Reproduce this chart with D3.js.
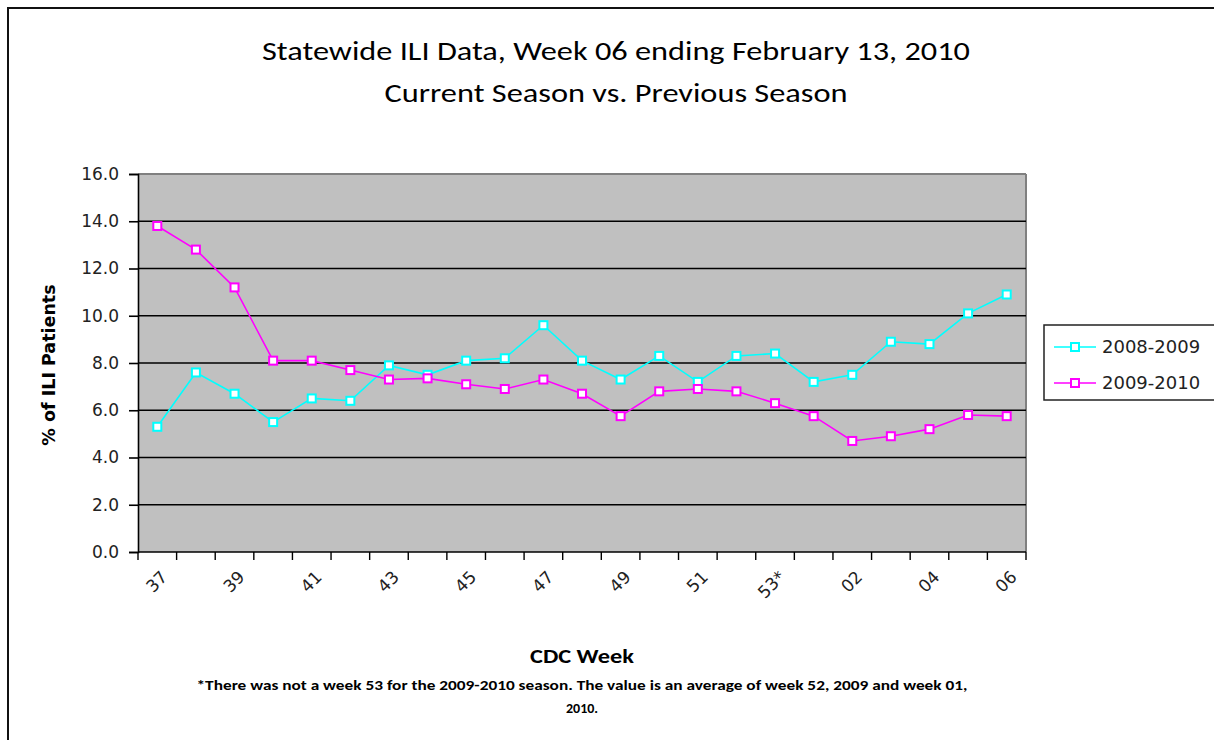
<!DOCTYPE html>
<html>
<head>
<meta charset="utf-8">
<script src="https://cdn.jsdelivr.net/npm/d3@7"></script>
<style>
  html, body { margin: 0; padding: 0; background: #fff; }
  svg { display: block; }
</style>
</head>
<body>
<svg id="chart" width="1214" height="740"></svg>
<script>
// ---- data ----
const weeks = ["37","38","39","40","41","42","43","44","45","46","47","48","49","50","51","52","53*","01","02","03","04","05","06"];
const tickLabels = ["37","39","41","43","45","47","49","51","53*","02","04","06"];
const season0809 = [5.3,7.6,6.7,5.5,6.5,6.4,7.9,7.5,8.1,8.2,9.6,8.1,7.3,8.3,7.2,8.3,8.4,7.2,7.5,8.9,8.8,10.1,10.9];
const season0910 = [13.8,12.8,11.2,8.1,8.1,7.7,7.3,7.35,7.1,6.9,7.3,6.7,5.75,6.8,6.9,6.8,6.3,5.75,4.7,4.9,5.2,5.8,5.75];
const yTicks = [0,2,4,6,8,10,12,14,16];
const seriesNames = ["2008-2009","2009-2010"];
const seriesColors = ["#00FFFF","#FF00FF"];
const titleLines = ["Statewide ILI Data, Week 06 ending February 13, 2010","Current Season vs. Previous Season"];
const footLines = ["*There was not a week 53 for the 2009-2010 season. The value is an average of week 52, 2009 and week 01,","2010."];

(function () {
const svg = d3.select("#chart");
const pL = 138, pR = 1026, pT = 174, pB = 552;

// outer border
svg.append("rect").attr("x", 8).attr("y", 8).attr("width", 1240).attr("height", 760)
  .attr("fill", "none").attr("stroke", "#111").attr("stroke-width", 2);

const x = d3.scaleBand().domain(weeks).range([pL, pR]).padding(0);
const y = d3.scaleLinear().domain([0, 16]).range([pB, pT]);

// plot area
svg.append("rect").attr("x", pL).attr("y", pT).attr("width", pR - pL).attr("height", pB - pT)
  .attr("fill", "#C0C0C0");
svg.append("line").attr("x1", pR).attr("x2", pR).attr("y1", pT).attr("y2", pB)
  .attr("stroke", "#808080").attr("stroke-width", 2);
svg.append("line").attr("x1", pL).attr("x2", pR).attr("y1", y(16)).attr("y2", y(16))
  .attr("stroke", "#808080").attr("stroke-width", 2);

// gridlines
svg.append("g").selectAll("line").data(yTicks.filter(d => d > 0 && d < 16)).join("line")
  .attr("x1", pL).attr("x2", pR).attr("y1", d => y(d)).attr("y2", d => y(d))
  .attr("stroke", "#000").attr("stroke-width", 1.6);

// y axis
const yAxis = d3.axisLeft(y).tickValues(yTicks).tickFormat(d3.format(".1f")).tickSize(9).tickPadding(10);
const gy = svg.append("g").attr("transform", `translate(${pL},0)`).call(yAxis);
gy.select(".domain").attr("stroke", "#000").attr("stroke-width", 1.6);
gy.selectAll(".tick line").attr("stroke", "#000").attr("stroke-width", 1.6);
gy.selectAll(".tick text").attr("font-family", "DejaVu Sans, Verdana, sans-serif").attr("font-size", 17)
  .attr("fill", "#222");

// x axis: ticks at category boundaries
const boundaries = weeks.map(w => x(w)).concat([pR]);
svg.append("line").attr("x1", pL).attr("x2", pR).attr("y1", pB).attr("y2", pB)
  .attr("stroke", "#000").attr("stroke-width", 1.6);
svg.append("g").selectAll("line").data(boundaries).join("line")
  .attr("x1", d => d).attr("x2", d => d).attr("y1", pB).attr("y2", pB + 8)
  .attr("stroke", "#000").attr("stroke-width", 1.4);
svg.append("g").selectAll("text").data(tickLabels).join("text")
  .attr("transform", d => `translate(${x(d) + x.bandwidth() / 2 + 7},${pB + 22}) rotate(-45)`)
  .attr("text-anchor", "end").attr("dy", "0.35em")
  .attr("font-family", "DejaVu Sans, Verdana, sans-serif").attr("font-size", 17).attr("fill", "#222")
  .text(d => d);

// lines & markers
const seriesData = [season0809, season0910];
const line = d3.line().x((d, i) => x(weeks[i]) + x.bandwidth() / 2).y(d => y(d));
seriesData.forEach((vals, si) => {
  svg.append("path").datum(vals).attr("d", line).attr("fill", "none")
    .attr("stroke", seriesColors[si]).attr("stroke-width", 1.6);
  svg.append("g").selectAll("rect").data(vals).join("rect")
    .attr("x", (d, i) => x(weeks[i]) + x.bandwidth() / 2 - 4)
    .attr("y", d => y(d) - 4)
    .attr("width", 8).attr("height", 8)
    .attr("fill", "#fff").attr("stroke", seriesColors[si]).attr("stroke-width", 2);
});

// titles
const titleFont = "Carlito, Calibri, 'Open Sans', sans-serif";
svg.append("text").attr("x", 616).attr("y", 60).attr("text-anchor", "middle")
  .attr("font-family", titleFont).attr("font-size", 26).attr("font-weight", 500).attr("fill", "#000")
  .attr("textLength", 708).attr("lengthAdjust", "spacingAndGlyphs").text(titleLines[0]);
svg.append("text").attr("x", 616).attr("y", 102).attr("text-anchor", "middle")
  .attr("font-family", titleFont).attr("font-size", 26).attr("font-weight", 500).attr("fill", "#000")
  .attr("textLength", 463).attr("lengthAdjust", "spacingAndGlyphs").text(titleLines[1]);

// axis titles
svg.append("text").attr("transform", `translate(55,365) rotate(-90)`).attr("text-anchor", "middle")
  .attr("font-family", "DejaVu Sans, Verdana, sans-serif").attr("font-weight", "bold").attr("font-size", 17.5)
  .attr("fill", "#000").text("% of ILI Patients");
svg.append("text").attr("x", 582).attr("y", 663).attr("text-anchor", "middle")
  .attr("font-family", titleFont).attr("font-weight", "bold").attr("font-size", 20)
  .attr("fill", "#000").attr("textLength", 104).attr("lengthAdjust", "spacingAndGlyphs").text("CDC Week");

// footnote
svg.append("text").attr("x", 582).attr("y", 690).attr("text-anchor", "middle")
  .attr("font-family", titleFont).attr("font-weight", "bold").attr("font-size", 14)
  .attr("fill", "#000").attr("textLength", 771).attr("lengthAdjust", "spacingAndGlyphs").text(footLines[0]);
svg.append("text").attr("x", 582).attr("y", 713).attr("text-anchor", "middle")
  .attr("font-family", titleFont).attr("font-weight", "bold").attr("font-size", 14)
  .attr("fill", "#000").text(footLines[1]);

// legend
const lg = svg.append("g");
lg.append("rect").attr("x", 1044).attr("y", 325).attr("width", 200).attr("height", 75)
  .attr("fill", "#fff").attr("stroke", "#222").attr("stroke-width", 1.5);
seriesNames.forEach((name, i) => {
  const cy = 347 + i * 36;
  lg.append("line").attr("x1", 1054).attr("x2", 1096).attr("y1", cy).attr("y2", cy)
    .attr("stroke", seriesColors[i]).attr("stroke-width", 1.6);
  lg.append("rect").attr("x", 1071).attr("y", cy - 4).attr("width", 8).attr("height", 8)
    .attr("fill", "#fff").attr("stroke", seriesColors[i]).attr("stroke-width", 2);
  lg.append("text").attr("x", 1102).attr("y", cy).attr("dy", "0.35em")
    .attr("font-family", "DejaVu Sans, Verdana, sans-serif").attr("font-size", 18).attr("fill", "#222")
    .text(name);
});
})();
</script>
</body>
</html>
